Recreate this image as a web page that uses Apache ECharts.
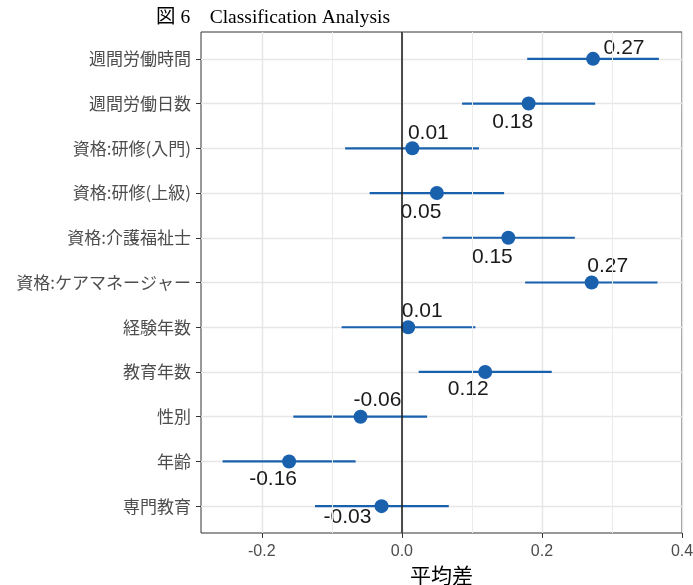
<!DOCTYPE html>
<html>
<head>
<meta charset="utf-8">
<script src="https://cdn.jsdelivr.net/npm/echarts@6/dist/echarts.min.js"></script>
<style>html,body{margin:0;padding:0;background:#fff}#c{width:693px;height:585px}</style>
</head>
<body>
<div id="c"></div>
<script>
// ---- data ----
const categories = ['週間労働時間','週間労働日数','資格:研修(入門)','資格:研修(上級)','資格:介護福祉士','資格:ケアマネージャー','経験年数','教育年数','性別','年齢','専門教育'];
const means = [0.273, 0.181, 0.015, 0.050, 0.152, 0.271, 0.009, 0.119, -0.059, -0.161, -0.029];
const lower = [0.179, 0.086, -0.081, -0.046, 0.058, 0.176, -0.086, 0.024, -0.155, -0.256, -0.124];
const upper = [0.367, 0.276, 0.110, 0.146, 0.247, 0.365, 0.105, 0.214, 0.036, -0.066, 0.067];
const xTicks = [-0.2, 0, 0.2, 0.4];
const xMinor = [-0.1, 0.1, 0.3];
const titleText = '図 6　Classification Analysis';
const xTitle = '平均差';

// ---- label placement (repel-like offsets, px) ----
const labelOffsets = [[31,-11],[-16,19],[16,-15],[-16,19],[-16,19],[16,-16],[14,-16],[-17,17],[17,-16],[-16,18],[-34,11]];

const blue = '#1960AD';
const idx = categories.map((_, i) => i);

const chart = echarts.init(document.getElementById('c'));
chart.setOption({
  animation: false,
  title: {
    text: titleText, left: 151, top: 3,
    textStyle: {fontFamily: 'Liberation Serif, Noto Sans CJK JP', fontWeight: 'normal', fontSize: 19.5, color: '#000'}
  },
  grid: {left: 201, right: 11, top: 32, bottom: 52, show: true, borderColor: '#333', borderWidth: 1, backgroundColor: '#fff', containLabel: false, outerBoundsMode: 'none'},
  xAxis: {
    type: 'value', min: -0.2868, max: 0.4,
    axisLine: {show: false, onZero: false},
    axisTick: {show: true, customValues: xTicks, length: 5, lineStyle: {color: '#333', width: 1}},
    axisLabel: {customValues: xTicks, formatter: v => v.toFixed(1), fontSize: 16, color: '#4D4D4D', fontFamily: 'Liberation Sans', margin: 11},
    splitLine: {show: true, lineStyle: {color: '#E6E6E6', width: 1.4}},
    name: xTitle, nameLocation: 'middle', nameGap: 31,
    nameTextStyle: {fontSize: 21, color: '#000', fontFamily: 'Noto Sans CJK JP'}
  },
  yAxis: {
    type: 'value', min: -0.6, max: 10.6, inverse: true,
    axisLine: {show: false, onZero: false},
    axisTick: {show: true, customValues: idx, length: 5, lineStyle: {color: '#333', width: 1}},
    axisLabel: {customValues: idx, formatter: v => categories[Math.round(v)], fontSize: 17, color: '#4D4D4D', fontFamily: 'Noto Sans CJK JP', margin: 10},
    splitLine: {show: true, lineStyle: {color: '#E6E6E6', width: 1.4}}
  },
  series: [
    {
      type: 'line', data: [], z: 1, silent: true,
      markLine: {
        silent: true, symbol: ['none','none'], label: {show: false}, animation: false,
        lineStyle: {color: '#EBEBEB', width: 1, type: 'solid'},
        data: xMinor.map(v => ({xAxis: v})).concat([{xAxis: 0, lineStyle: {color: '#222', width: 1.6, type: 'solid'}}])
      }
    },
    {
      type: 'custom', z: 3, silent: true,
      data: idx.map(i => [i, lower[i], upper[i]]),
      encode: {x: [1, 2], y: 0},
      renderItem: (params, api) => {
        const y = api.value(0);
        const p1 = api.coord([api.value(1), y]);
        const p2 = api.coord([api.value(2), y]);
        return {type: 'line', shape: {x1: p1[0], y1: p1[1], x2: p2[0], y2: p2[1]}, style: {stroke: blue, lineWidth: 2.2}};
      }
    },
    {
      type: 'scatter', z: 4, symbolSize: 14, itemStyle: {color: blue, opacity: 1},
      data: idx.map(i => ({
        value: [means[i], i],
        label: {offset: labelOffsets[i]}
      })),
      label: {
        show: true, position: 'inside', formatter: p => p.value[0].toFixed(2),
        fontSize: 21, color: '#1a1a1a', fontFamily: 'Liberation Sans'
      }
    }
  ]
});
</script>
</body>
</html>
